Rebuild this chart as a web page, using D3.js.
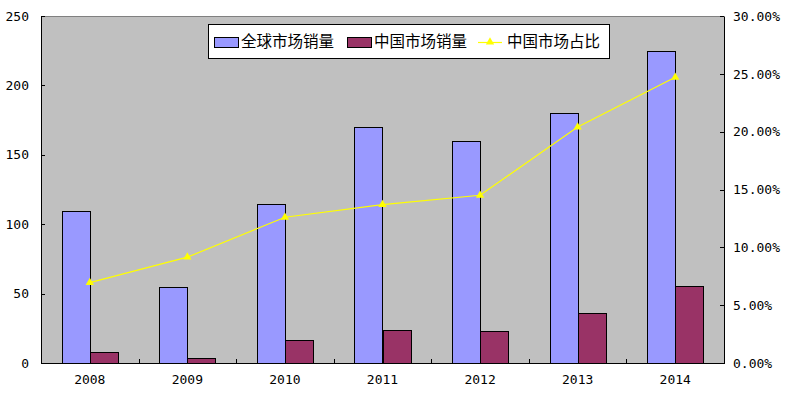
<!DOCTYPE html>
<html>
<head>
<meta charset="utf-8">
<script src="https://cdn.jsdelivr.net/npm/d3@7"></script>
<style>
  body { margin: 0; background: #fff; }
  svg text { font-family: "DejaVu Sans Mono", "Liberation Mono", monospace; }
  .cjk { font-family: "Noto Sans CJK SC", sans-serif; }
</style>
</head>
<body>
<svg id="chart" width="786" height="393"></svg>
<script>
// data
const years = ["2008", "2009", "2010", "2011", "2012", "2013", "2014"];
const globalSales = [109.5, 54.5, 114.5, 170, 160, 180, 224.5];
const chinaSales = [8, 3.5, 16.5, 23.5, 23, 36, 55.5];
const chinaShare = [0.0695, 0.0915, 0.126, 0.137, 0.145, 0.204, 0.247];
const leftTicks = [0, 50, 100, 150, 200, 250];
const rightTicks = [0, 0.05, 0.10, 0.15, 0.20, 0.25, 0.30];
const seriesNames = ["全球市场销量", "中国市场销量", "中国市场占比"];

const blue = "#9999ff", plum = "#993366", yellow = "#ffff00";

const svg = d3.select("#chart");
const plotL = 41, plotR = 724, plotT = 16, plotB = 363;

const x = d3.scaleBand().domain(years).range([plotL, plotR]).padding(0);
const bw = x.bandwidth();
const xs = d3.scaleBand().domain([0, 1]).range([0, bw]).paddingInner(0).paddingOuter(0.74);
const yL = d3.scaleLinear().domain([0, 250]).range([plotB, plotT]);
const yR = d3.scaleLinear().domain([0, 0.30]).range([plotB, plotT]);

// plot area
svg.append("rect")
    .attr("x", plotL).attr("y", plotT)
    .attr("width", plotR - plotL).attr("height", plotB - plotT)
    .attr("fill", "#c0c0c0")
    .attr("stroke", "#808080")
    .attr("shape-rendering", "crispEdges");

// bars
const bars = svg.append("g").attr("shape-rendering", "crispEdges");
[globalSales, chinaSales].forEach((vals, s) => {
    bars.selectAll(null)
        .data(vals)
        .enter().append("rect")
        .attr("x", (d, i) => Math.round(x(years[i]) + xs(s)) + 0.5)
        .attr("y", d => Math.round(yL(d)) + 0.5)
        .attr("width", Math.round(xs.bandwidth()))
        .attr("height", d => plotB - Math.round(yL(d)))
        .attr("fill", s === 0 ? blue : plum)
        .attr("stroke", "#000")
        .attr("stroke-width", 1);
});

// axes
const axL = svg.append("g").attr("transform", `translate(${plotL},0)`)
    .call(d3.axisLeft(yL).tickValues(leftTicks).tickSizeInner(-4).tickSizeOuter(0).tickPadding(12));
const axR = svg.append("g").attr("transform", `translate(${plotR},0)`)
    .call(d3.axisRight(yR).tickValues(rightTicks).tickSizeInner(-4).tickSizeOuter(0).tickPadding(9)
        .tickFormat(d3.format(".2%")));
const axB = svg.append("g").attr("transform", `translate(0,${plotB})`)
    .call(d3.axisBottom(x).tickSize(0).tickPadding(12));

// category boundary ticks on the x axis
svg.append("g").selectAll("line")
    .data(years.slice(1))
    .enter().append("line")
    .attr("x1", d => Math.round(x(d)) + 0.5).attr("x2", d => Math.round(x(d)) + 0.5)
    .attr("y1", plotB).attr("y2", plotB - 4)
    .attr("stroke", "#000");

[axL, axR, axB].forEach(a => {
    a.selectAll("path, line").attr("stroke", "#000").attr("shape-rendering", "crispEdges");
    a.selectAll("text").attr("font-size", 13).attr("fill", "#000");
});

// line series
const cx = (d, i) => x(years[i]) + bw / 2;
svg.append("path")
    .datum(chinaShare)
    .attr("fill", "none")
    .attr("stroke", yellow)
    .attr("stroke-width", 1.2)
    .attr("d", d3.line().x(cx).y(d => yR(d)));

svg.append("g").selectAll("path")
    .data(chinaShare)
    .enter().append("path")
    .attr("transform", (d, i) => `translate(${cx(d, i)},${yR(d)})`)
    .attr("d", d3.symbol().type(d3.symbolTriangle).size(30))
    .attr("fill", yellow);

// legend
const lg = svg.append("g");
lg.append("rect")
    .attr("x", 208.5).attr("y", 24.5).attr("width", 401).attr("height", 34)
    .attr("fill", "#fff").attr("stroke", "#000");

const legendX = [214, 347, 478];
const textX = [241, 374, 507];
seriesNames.forEach((name, i) => {
    if (i < 2) {
        lg.append("rect")
            .attr("x", legendX[i] + 0.5).attr("y", 37.5)
            .attr("width", 24).attr("height", 10)
            .attr("fill", i === 0 ? blue : plum)
            .attr("stroke", "#000");
    } else {
        lg.append("line")
            .attr("x1", legendX[i]).attr("x2", legendX[i] + 24)
            .attr("y1", 42.5).attr("y2", 42.5)
            .attr("stroke", yellow).attr("stroke-width", 1.2);
        lg.append("path")
            .attr("transform", `translate(${legendX[i] + 12},42)`)
            .attr("d", d3.symbol().type(d3.symbolTriangle).size(30))
            .attr("fill", yellow);
    }
    lg.append("text")
        .attr("class", "cjk")
        .attr("x", textX[i]).attr("y", 42)
        .attr("dy", "0.35em")
        .attr("font-size", 15.5)
        .text(name);
});
</script>
</body>
</html>
